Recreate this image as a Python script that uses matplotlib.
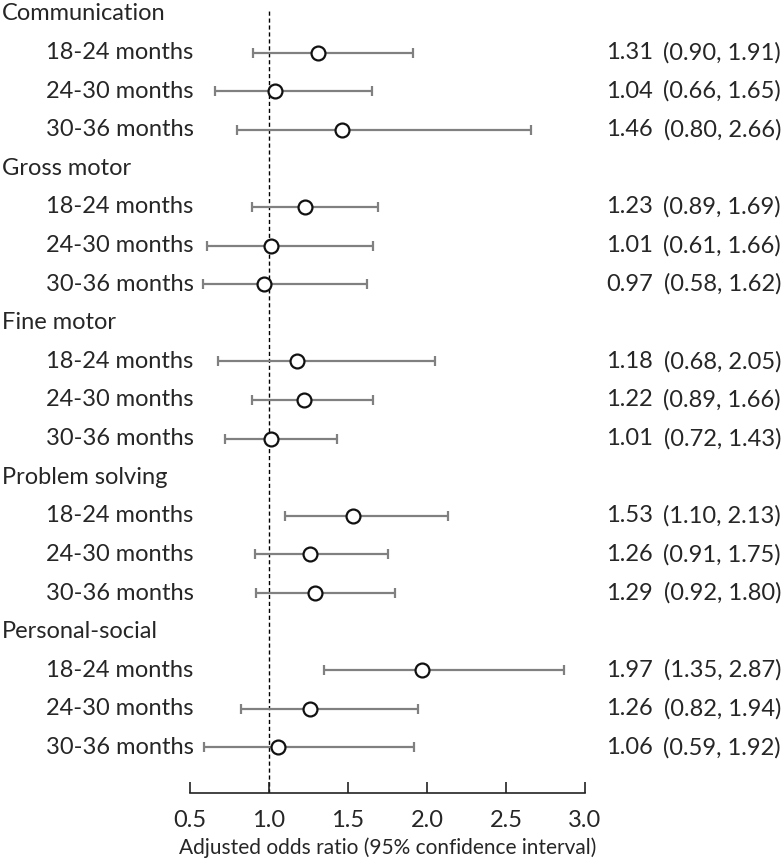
import matplotlib
matplotlib.use("Agg")
import matplotlib.pyplot as plt

plt.rcParams.update({
    "font.family": ["Lato", "DejaVu Sans"],
    "font.size": 17,
})

domains = ["Communication", "Gross motor", "Fine motor", "Problem solving", "Personal-social"]
periods = ["18-24 months", "24-30 months", "30-36 months"]
aor = [[1.31, 1.04, 1.46],
       [1.23, 1.01, 0.97],
       [1.18, 1.22, 1.01],
       [1.53, 1.26, 1.29],
       [1.97, 1.26, 1.06]]
lower = [[0.90, 0.66, 0.80],
         [0.89, 0.61, 0.58],
         [0.68, 0.89, 0.72],
         [1.10, 0.91, 0.92],
         [1.35, 0.82, 0.59]]
upper = [[1.91, 1.65, 2.66],
         [1.69, 1.66, 1.62],
         [2.05, 1.66, 1.43],
         [2.13, 1.75, 1.80],
         [2.87, 1.94, 1.92]]
xticks = [0.5, 1.0, 1.5, 2.0, 2.5, 3.0]

txt = "#262626"
fig = plt.figure(figsize=(7.83, 8.64), dpi=100)
ax = fig.add_axes([190/783, 1-793/864, 395/783, 793/864])

def label(s, xpx, y, ha="left"):
    # x in figure pixels, y in data rows
    ax.annotate(s, xy=(xpx/783, y), xycoords=("figure fraction", "data"),
                ha=ha, va="center", color=txt, annotation_clip=False)

row = 0
for i, d in enumerate(domains):
    label(d, 2, row)
    row += 1
    for j, p in enumerate(periods):
        m, lo, hi = aor[i][j], lower[i][j], upper[i][j]
        ax.errorbar([m], [row], xerr=[[m-lo], [hi-m]], fmt="none", ecolor="#808080",
                    elinewidth=1.6, capsize=3.5, capthick=1.6, zorder=2)
        ax.plot([m], [row], "o", ms=10, mfc="white", mec="#111111", mew=1.6, zorder=3)
        label(p, 46, row)
        label(f"{m:.2f}", 606, row)
        label(f"({lo:.2f}, {hi:.2f})", 781, row, ha="right")
        row += 1

ax.axvline(1.0, ymin=0, ymax=1-10/793, color="black", lw=1, ls=(0, (3, 2)), zorder=1)

ax.set_xlim(0.5, 3.0)
ax.set_ylim(20.18, -0.36)
ax.set_yticks([])
for s in ["top", "right", "left"]:
    ax.spines[s].set_visible(False)
ax.spines["bottom"].set_color("#222222")
ax.spines["bottom"].set_linewidth(1.2)
ax.set_xticks(xticks)
ax.set_xticklabels([f"{v:.1f}" for v in xticks], color=txt)
ax.tick_params(axis="x", direction="in", length=8, width=1.2, color="#222222", pad=12)
ax.set_xlabel("Adjusted odds ratio (95% confidence interval)", fontsize=15, color=txt, labelpad=5)
ax.patch.set_visible(False)

fig.savefig("out.png", dpi=100)
